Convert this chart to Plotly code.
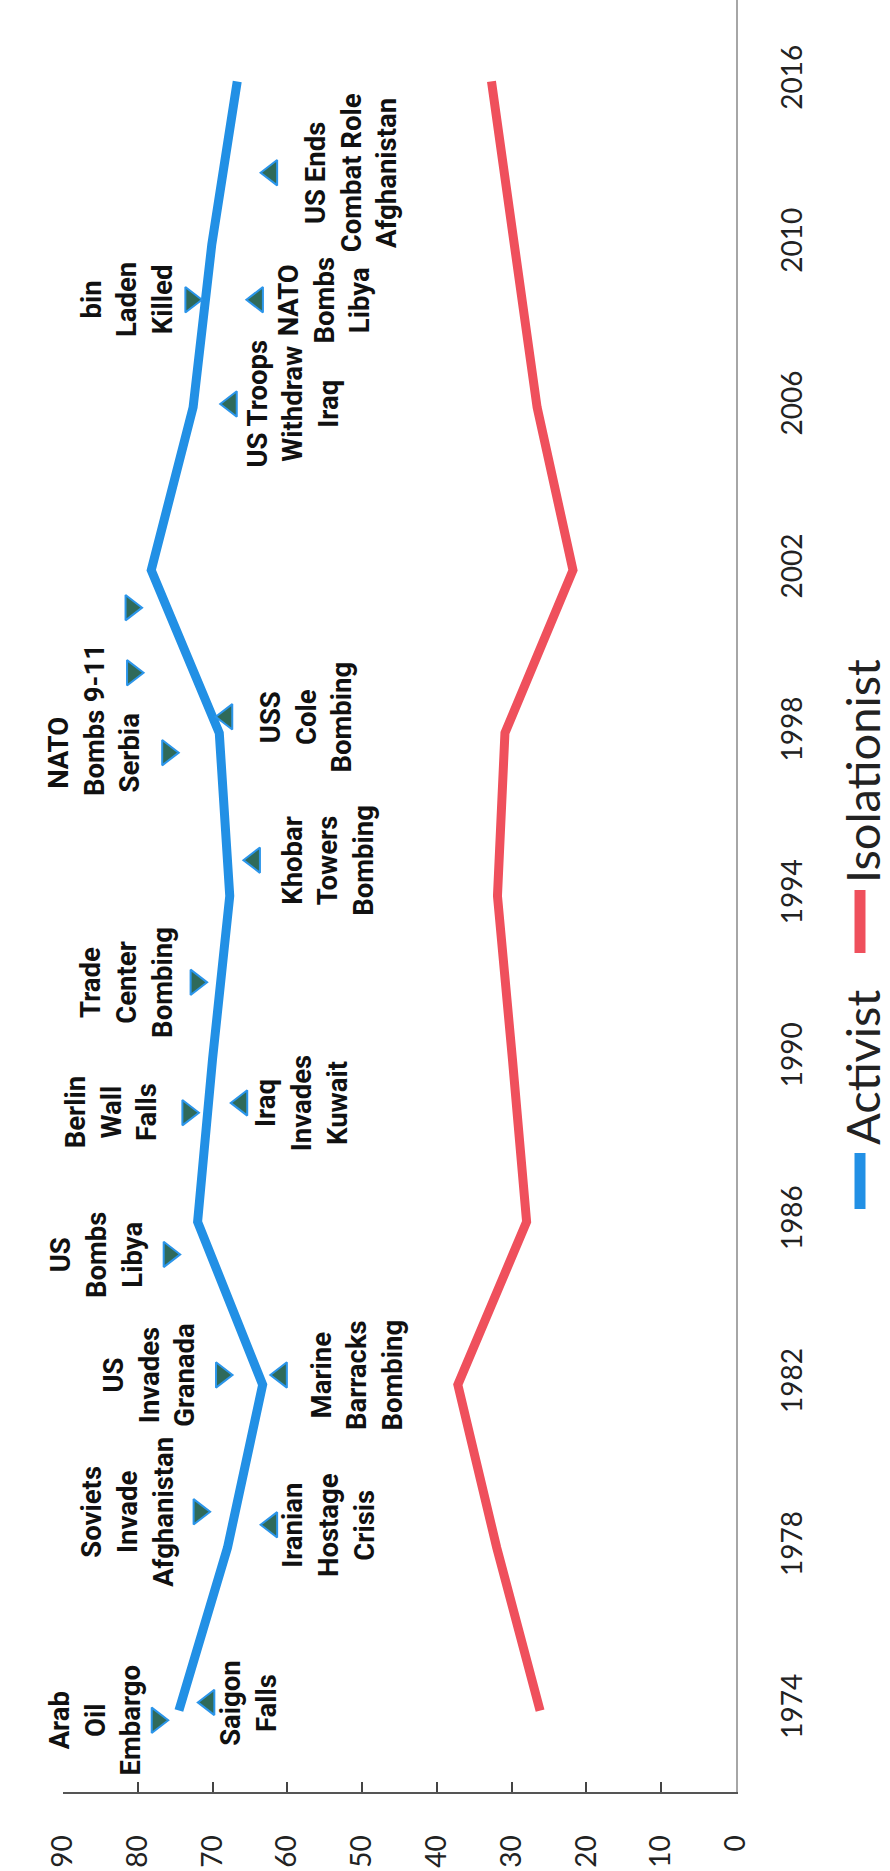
import numpy as np
import plotly.graph_objects as go

# Survey years (category axis) and share of respondents per stance
years = ["1974", "1978", "1982", "1986", "1990", "1994", "1998", "2002", "2006", "2010", "2016"]
activist = [74.5, 68.0, 63.3, 72.0, 70.0, 67.7, 69.1, 78.2, 72.6, 70.1, 66.7]
isolationist = [26.2, 32.0, 37.2, 28.0, 29.9, 31.9, 30.9, 21.8, 26.6, 29.5, 32.7]

# Foreign-policy events: name, position along the survey-year axis, plotted value
event_names = [
    "Arab<br>Oil<br>Embargo", "Saigon<br>Falls", "Soviets<br>Invade<br>Afghanistan",
    "Iranian<br>Hostage<br>Crisis", "US<br>Invades<br>Granada", "Marine<br>Barracks<br>Bombing",
    "US<br>Bombs<br>Libya", "Berlin<br>Wall<br>Falls", "Iraq<br>Invades<br>Kuwait",
    "Trade<br>Center<br>Bombing", "Khobar<br>Towers<br>Bombing", "NATO<br>Bombs<br>Serbia",
    "USS<br>Cole<br>Bombing", "9-11", "US<br>Invades<br>Iraq",
    "US Troops<br>Withdraw<br>Iraq", "bin<br>Laden<br>Killed", "NATO<br>Bombs<br>Libya",
    "US Ends<br>Combat Role<br>Afghanistan",
]
event_pos = [-0.06, 0.05, 1.22, 1.14, 2.06, 2.06, 2.80, 3.67, 3.73, 4.47, 5.22, 5.88,
             6.10, 6.37, 6.77, 8.02, 8.66, 8.66, 9.44]
event_values = [77.4, 70.5, 71.8, 62.1, 68.8, 60.8, 75.8, 73.3, 66.1, 72.2, 64.4, 76.0,
                68.1, 80.7, 80.9, 67.5, 72.9, 64.0, 62.1]

# Label placement: distance of each event label from its marker (value units)
label_offset = [8.3, -5.3, 9.5, -7.7, 9.6, -10.2, 9.7, 10.2, -8.1, 9.3, -9.8, 9.8,
                -10.7, 5.1, 9.6, -8.2, 8.5, -9.0, -10.7]

BLUE = "#2290e5"
RED = "#ef505c"
FONT = "Lato"
BOLD_FONT = "Roboto"

W, H = 890, 1871
ML, MR, MT, MB = 63, 154, 0, 79
PW, PH = W - ML - MR, H - MT - MB


def paper(x_px, y_px):
    return (x_px - ML) / PW, (MT + PH - y_px) / PH


idx = np.arange(len(years))
fig = go.Figure()

fig.add_trace(go.Scatter(x=activist, y=idx, mode="lines", name="Activist",
                         line=dict(color=BLUE, width=9), showlegend=False))
fig.add_trace(go.Scatter(x=isolationist, y=idx, mode="lines", name="Isolationist",
                         line=dict(color=RED, width=9), showlegend=False))

# Events above the activist line point toward it from the left, the rest from the right
line_at_event = np.interp(event_pos, idx, activist)
symbols = ["triangle-right" if v > a else "triangle-left"
           for v, a in zip(event_values, line_at_event)]
fig.add_trace(go.Scatter(
    x=event_values, y=event_pos, mode="markers", showlegend=False,
    marker=dict(symbol=symbols, size=22, color="#2f6a5a",
                line=dict(color="#2b95ea", width=2)),
))

for name, pos, val, off in zip(event_names, event_pos, event_values, label_offset):
    fig.add_annotation(x=val + off, y=pos, xref="x", yref="y", text=name,
                       showarrow=False, textangle=-90, xanchor="center", yanchor="middle",
                       font=dict(family=BOLD_FONT, size=27.5, color="#111", weight="bold"))

# Legend drawn sideways to follow the rotated layout
for color, (y0, y1), label, (tx, ty) in [
    (BLUE, (1153, 1209), "Activist", (862, 1068)),
    (RED, (890, 953), "Isolationist", (862, 771)),
]:
    x0p, y0p = paper(860, y0)
    _, y1p = paper(860, y1)
    fig.add_shape(type="line", xref="paper", yref="paper", x0=x0p, x1=x0p,
                  y0=y0p, y1=y1p, line=dict(color=color, width=11))
    axp, ayp = paper(tx, ty)
    fig.add_annotation(x=axp, y=ayp, xref="paper", yref="paper", text=label,
                       showarrow=False, textangle=-90, xanchor="center", yanchor="middle",
                       font=dict(family=FONT, size=47, color="#222"))

fig.update_xaxes(
    range=[90, 0], tickvals=list(range(0, 91, 10)), tickangle=-90,
    ticks="inside", ticklen=10, tickwidth=2, tickcolor="#444",
    showline=True, linecolor="#555", linewidth=2, showgrid=False, zeroline=False,
    tickfont=dict(family=FONT, size=28, color="#222"), ticklabelstandoff=30,
)
fig.update_yaxes(
    range=[-0.5, 10.5], tickvals=list(idx), ticktext=years, side="right", tickangle=-90,
    ticks="", showline=True, linecolor="#a6a6a6", linewidth=2, showgrid=False,
    zeroline=False, tickfont=dict(family=FONT, size=28, color="#222"), ticklabelstandoff=30,
)
fig.update_layout(
    width=W, height=H, margin=dict(l=ML, r=MR, t=MT, b=MB),
    plot_bgcolor="white", paper_bgcolor="white",
)

fig.write_html("out.html")
